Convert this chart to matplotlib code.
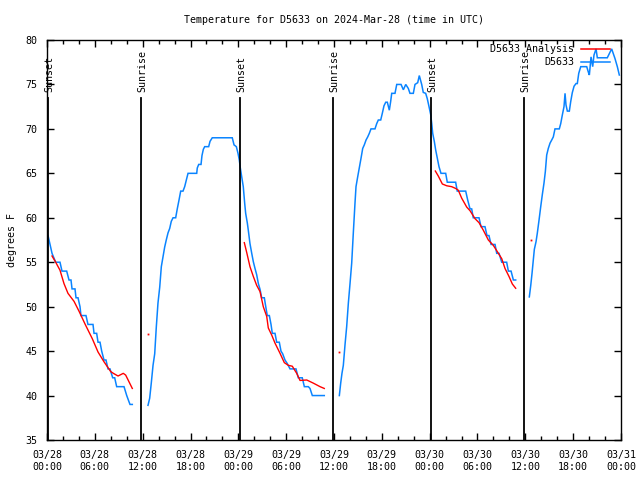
import matplotlib
matplotlib.use("Agg")
import matplotlib.pyplot as plt
import numpy as np

# ---------------- data (hours since 03/28 00:00 UTC, degrees F) ----------------
obs_t1 = [0.13, 0.38, 0.63, 1.09, 1.63, 1.88, 2.47, 2.76, 3.01, 3.14, 3.51, 3.64, 3.89, 4.14,
          4.26, 4.89, 5.14, 5.77, 5.90, 6.23, 6.40, 6.65, 6.86, 7.15, 7.40, 7.65, 7.90, 8.24,
          8.49, 8.74, 9.66, 10.00, 10.41, 10.70]
obs_v1 = [58, 57, 56, 55, 55, 54, 54, 53, 53, 52, 52, 51, 51, 50,
          49, 49, 48, 48, 47, 47, 46, 46, 45, 44, 44, 43, 43, 42,
          42, 41, 41, 40, 39, 39]

obs_t2 = [12.67, 12.88, 13.08, 13.30, 13.51, 13.71, 13.92, 14.14, 14.34, 14.55, 14.76, 14.96,
          15.18, 15.39, 15.59, 15.81, 16.14, 16.34, 16.56, 16.77, 17.06, 17.27, 17.52, 17.69,
          18.78, 18.85, 19.03, 19.32, 19.44, 19.61, 19.78, 20.28, 20.45, 20.73, 23.24, 23.46,
          23.75, 23.96, 24.12, 24.25, 24.46, 24.62, 24.80, 24.92, 25.13, 25.25, 25.46, 25.68,
          25.88, 26.09, 26.30, 26.51, 26.72, 26.93, 27.26, 27.44, 27.63, 27.89, 28.10, 28.26,
          28.60, 28.81, 29.14, 29.35, 29.56, 29.85, 30.14, 30.48, 31.23, 31.52, 32.02, 32.28,
          32.78, 32.99, 33.28, 34.78]
obs_v2 = [38.9, 39.7, 41.4, 43.4, 44.7, 47.7, 50.4, 52.2, 54.5, 55.6, 56.7, 57.5,
          58.3, 58.8, 59.6, 60, 60, 61, 62, 63, 63, 63.5, 64.4, 65,
          65, 65.6, 66, 66, 67, 67.7, 68, 68, 68.6, 69, 69, 68.2,
          68, 67.25, 66.5, 65.6, 64.4, 63.5, 61.6, 60.5, 59.4, 58.6, 57.1, 56.0,
          55.06, 54.3, 53.6, 52.6, 51.95, 51, 51, 50, 49, 49, 48, 47,
          47, 46, 46, 45, 44.7, 44, 43.6, 43, 43, 42, 42, 41,
          41, 40.8, 40, 40]

obs_t3 = [36.67, 36.84, 37.00, 37.17, 37.38, 37.59, 37.80, 38.01, 38.22, 38.42, 38.63, 38.76,
          38.97, 39.17, 39.39, 39.60, 39.80, 40.02, 40.23, 40.43, 40.64, 41.14, 41.36, 41.56,
          41.86, 42.06, 42.27, 42.49, 42.69, 42.94, 43.11, 43.24, 43.65, 43.87, 44.41, 44.70,
          45.00, 45.32, 45.53, 45.95, 46.16, 46.50, 46.70, 47.00, 47.20, 47.50, 47.70, 47.92,
          48.13, 48.26, 48.38, 48.58, 48.76, 48.96, 49.17, 49.42, 50.01, 50.21, 51.26, 51.46,
          52.52, 52.77, 53.06, 53.27, 53.47, 54.19, 54.44, 54.94, 55.19, 55.44, 55.70, 56.20,
          56.41, 56.70, 57.04, 57.66, 57.87, 58.21, 58.50, 58.79]
obs_v3 = [40, 41.4, 42.5, 43.4, 45.7, 47.75, 50.4, 52.6, 54.9, 58.25, 61.6, 63.5,
          64.6, 65.6, 66.7, 67.8, 68.2, 68.75, 69.1, 69.5, 70, 70, 70.6, 71,
          71, 71.75, 72.6, 73, 73, 72.1, 73.1, 74, 74, 75, 75, 74.4,
          75, 74.55, 74, 74, 75, 75.2, 76, 75, 74.1, 74, 73.4, 72.5,
          71.6, 70.6, 69.5, 68.6, 67.6, 66.7, 65.75, 65, 65, 64, 64, 63,
          63, 62, 61, 61, 60, 60, 59, 59, 58, 58, 57, 57,
          56, 56, 55, 55, 54, 54, 53, 53]

obs_t4 = [60.50, 60.68, 60.84, 61.00, 61.13, 61.34, 61.50, 61.72, 61.93, 62.13, 62.34, 62.51,
          62.68, 62.88, 63.10, 63.31, 63.51, 63.72, 64.26, 64.44, 64.64, 64.85, 64.98, 65.10,
          65.27, 65.52, 65.69, 65.89, 66.11, 66.36, 66.52, 66.70, 66.95, 67.70, 67.90, 68.03,
          68.24, 68.45, 68.61, 68.87, 69.03, 70.28, 70.83, 71.25, 71.54, 71.79]
obs_v4 = [51.1, 52.4, 53.75, 55.25, 56.45, 57.3, 58.25, 59.75, 61.25, 62.6, 63.9, 65.2,
          67.06, 67.8, 68.4, 68.75, 69.1, 70, 70, 70.6, 71.56, 72.5, 74.0, 72.7,
          72, 72, 73.06, 74.07, 74.8, 75.1, 75.1, 76.25, 77, 77, 76.4, 76.06,
          78.1, 77.0, 78.3, 79, 78, 78, 79, 77.9, 77, 76.06]

ana_t1 = [0.63, 1.09, 1.63, 2.13, 2.63, 3.39, 4.01, 4.85, 5.68, 6.40, 7.15, 7.99, 8.32, 8.91,
          9.57, 9.87, 10.70]
ana_v1 = [55.7, 55.0, 54.1, 52.6, 51.5, 50.6, 49.5, 47.9, 46.4, 44.9, 43.8, 42.7, 42.5, 42.2,
          42.5, 42.3, 40.8]
ana_t2 = [24.75, 25.05, 25.46, 25.88, 26.30, 26.72, 27.13, 27.56, 27.76, 28.19, 28.60, 29.23,
          29.77, 30.27, 30.77, 31.32, 31.74, 32.58, 33.40, 34.25, 34.78]
ana_v2 = [57.2, 56.1, 54.5, 53.4, 52.4, 51.7, 50.0, 48.9, 47.6, 46.8, 45.9, 44.75,
          43.7, 43.4, 43.3, 42.5, 41.7, 41.75, 41.4, 41.0, 40.8]
ana_t3 = [48.71, 49.08, 49.59, 50.14, 50.76, 51.26, 51.59, 52.02, 52.65, 53.06, 53.69, 54.19,
          54.73, 55.36, 55.98, 56.41, 57.04, 57.45, 57.95, 58.37, 58.79]
ana_v3 = [65.26, 64.7, 63.8, 63.6, 63.5, 63.3, 63.1, 62.2, 61.2, 60.8, 59.9, 59.45,
          58.6, 57.5, 56.9, 56.3, 55.4, 54.3, 53.4, 52.55, 52.07]
ana_dot_t = [12.71, 36.67, 60.75]
ana_dot_v = [46.9, 44.87, 57.47]

event_t = [0.15, 11.8, 24.2, 35.85, 48.2, 59.8]
event_lbl = ["Sunset", "Sunrise", "Sunset", "Sunrise", "Sunset", "Sunrise"]

xtick_pos = [0, 6, 12, 18, 24, 30, 36, 42, 48, 54, 60, 66, 72]
xtick_lbl = ["03/28\n00:00", "03/28\n06:00", "03/28\n12:00", "03/28\n18:00",
             "03/29\n00:00", "03/29\n06:00", "03/29\n12:00", "03/29\n18:00",
             "03/30\n00:00", "03/30\n06:00", "03/30\n12:00", "03/30\n18:00",
             "03/31\n00:00"]
ytick_pos = [35, 40, 45, 50, 55, 60, 65, 70, 75, 80]

# ---------------- plot ----------------
FONT = "DejaVu Sans Mono"
FS = 7.2
BLUE = "#0a84ff"
RED = "#ff0000"

fig = plt.figure(figsize=(6.4, 4.8), dpi=100)
ax = fig.add_axes([47/640, 40/480, 574/640, 400/480])

for t, v in [(obs_t1, obs_v1), (obs_t2, obs_v2), (obs_t3, obs_v3), (obs_t4, obs_v4)]:
    ax.plot(t, v, color=BLUE, lw=1.1, solid_joinstyle="miter")
for t, v in [(ana_t1, ana_v1), (ana_t2, ana_v2), (ana_t3, ana_v3)]:
    ax.plot(t, v, color=RED, lw=1.0)
ax.plot(ana_dot_t, ana_dot_v, ls="none", marker="s", ms=1.3, mew=0, color=RED)

for t, lbl in zip(event_t, event_lbl):
    ax.plot([t, t], [35, 73.5], color="black", lw=1.3)
    ax.text(t + 0.15, 74.2, lbl, rotation=90, ha="center", va="bottom",
            family=FONT, fontsize=FS)

ax.set_xlim(0, 72)
ax.set_ylim(35, 80)
ax.set_xticks(xtick_pos)
ax.set_xticklabels(xtick_lbl, family=FONT, fontsize=FS, linespacing=1.3)
ax.set_xticks(np.arange(0, 73, 2), minor=True)
ax.set_yticks(ytick_pos)
ax.set_yticklabels([str(v) for v in ytick_pos], family=FONT, fontsize=FS)
ax.tick_params(which="major", direction="in", length=5, width=1, top=True, right=True, pad=7)
ax.tick_params(which="minor", direction="in", length=3, width=1, top=True, right=False)
ax.tick_params(axis="y", which="minor", left=False, right=False)
for s in ax.spines.values():
    s.set_linewidth(1.0)

ax.set_ylabel("degrees F", family=FONT, fontsize=FS, labelpad=6)
fig.text(334/640, 1 - 20/480, "Temperature for D5633 on 2024-Mar-28 (time in UTC)",
         ha="center", va="center", family=FONT, fontsize=FS)

# legend (gnuplot style: text, then sample)
for yf, lbl, col in [(0.977, "D5633 Analysis", RED), (0.944, "D5633", BLUE)]:
    ax.text(0.918, yf, lbl, transform=ax.transAxes, ha="right", va="center",
            family=FONT, fontsize=FS)
    ax.plot([0.930, 0.981], [yf, yf], transform=ax.transAxes, color=col, lw=1.1)

fig.savefig("out.png", dpi=100)
